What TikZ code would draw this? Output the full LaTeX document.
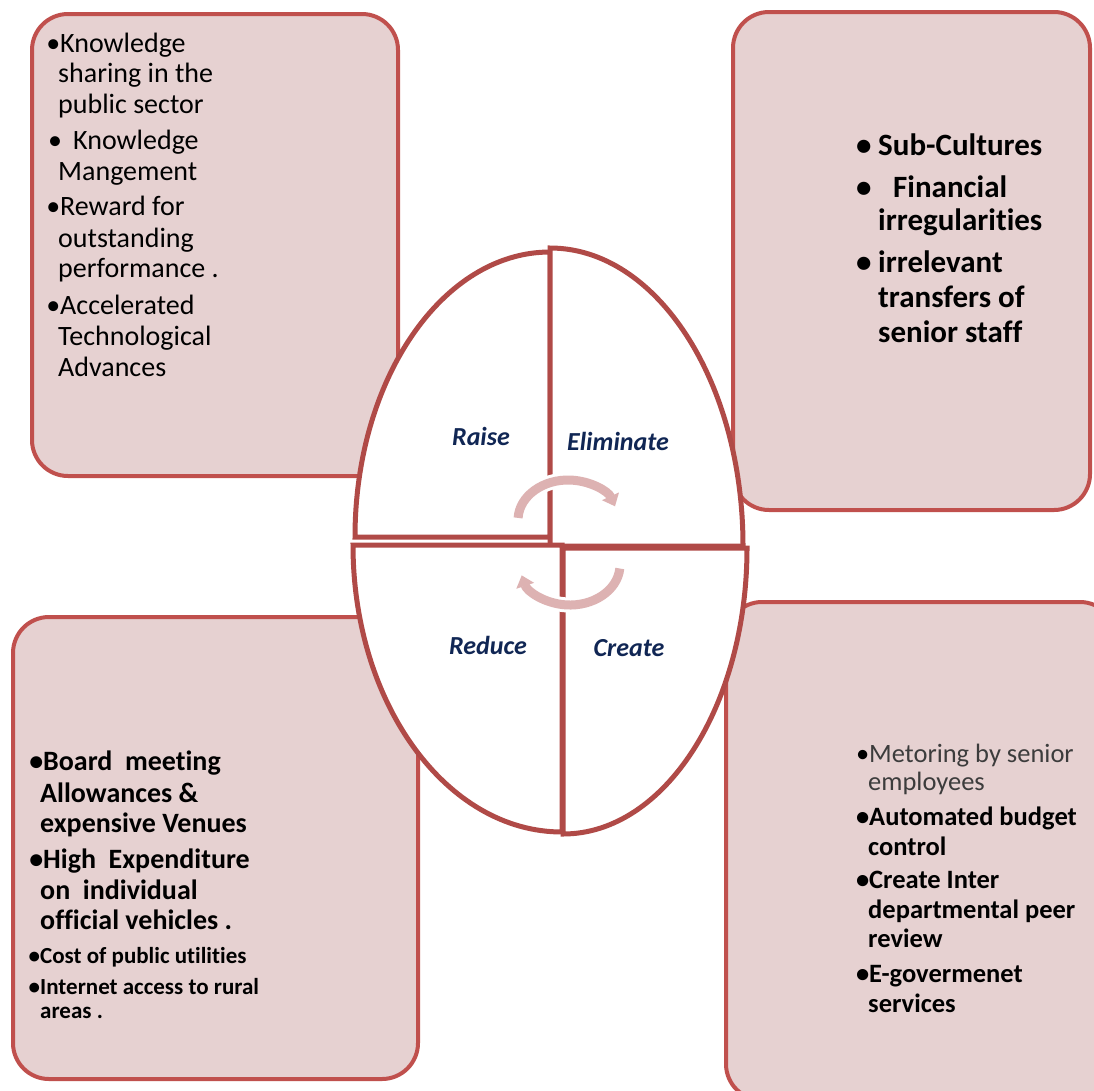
\documentclass[tikz,border=0pt]{standalone}
\usepackage{fontspec}
\setmainfont{Carlito}[Ligatures=NoCommon,RawFeature={-liga;-clig;-dlig}]
\usetikzlibrary{arrows.meta}
\definecolor{boxfill}{RGB}{230,209,209}
\definecolor{boxline}{RGB}{192,80,77}
\definecolor{eggline}{RGB}{176,74,71}
\definecolor{arrowc}{RGB}{221,178,178}
\definecolor{labelc}{RGB}{16,38,84}
\definecolor{greytext}{RGB}{60,60,60}
\begin{document}
\begin{tikzpicture}[x=1pt,y=-1pt,
  panel/.style={draw=boxline,fill=boxfill,line width=4pt,rounded corners=36pt,anchor=north west,inner sep=0pt},
  quad/.style={draw=eggline,fill=white,line width=5pt,line join=miter},
  cyc/.style={draw=arrowc,line width=9pt,-{Triangle[width=18pt,length=11pt]}},
  halo/.style={draw=white,line width=15pt},
  lbl/.style={font=\fontsize{26}{30}\selectfont\bfseries\itshape,text=labelc,inner sep=0pt},
  ta/.style={anchor=base west,inner sep=0pt,font=\fontsize{28}{30}\selectfont},
  tb/.style={anchor=base west,inner sep=0pt,font=\fontsize{31}{34}\selectfont\bfseries},
  tc/.style={anchor=base west,inner sep=0pt,font=\fontsize{28}{30}\selectfont\bfseries},
  tcs/.style={anchor=base west,inner sep=0pt,font=\fontsize{23}{26}\selectfont\bfseries},
  td/.style={anchor=base west,inner sep=0pt,font=\fontsize{26.5}{29}\selectfont\bfseries},
  tdg/.style={anchor=base west,inner sep=0pt,font=\fontsize{26.5}{29}\selectfont,text=greytext},
]
\clip (0,0) rectangle (1094,1090);
\fill[white] (0,0) rectangle (1094,1090);

% panels
\node[panel,minimum width=366pt,minimum height=462pt] (tlbox) at (30,12) {};
\node[panel,minimum width=357pt,minimum height=498pt] (trbox) at (731,10) {};
\node[panel,minimum width=405pt,minimum height=462pt] (blbox) at (11,615) {};
\node[panel,minimum width=390pt,minimum height=498pt] (brbox) at (724,600) {};

% egg quadrants
\draw[quad] (550,537) -- (355,537) arc[start angle=180,end angle=270,x radius=195,y radius=285] -- cycle;
\draw[quad] (550,546) -- (550,248) arc[start angle=270,end angle=360,x radius=193,y radius=298] -- cycle;
\draw[quad] (353,545) -- (562,545) -- (562,832) arc[start angle=90,end angle=180,x radius=209,y radius=287] -- cycle;
\draw[quad] (563,834) -- (563,548) -- (747,548) arc[start angle=0,end angle=90,x radius=184,y radius=286] -- cycle;

% cycle arrows
\draw[halo] (518.1,517.9) arc[start angle=183,end angle=340,x radius=50,y radius=40];
\draw[cyc] (518.1,517.9) arc[start angle=183,end angle=340,x radius=50,y radius=40];
\draw[halo] (619.8,568.5) arc[start angle=5,end angle=165,x radius=50,y radius=40];
\draw[cyc] (619.8,568.5) arc[start angle=5,end angle=165,x radius=50,y radius=40];

% quadrant labels
\node[lbl] (raise) at (481,436) {Raise};
\node[lbl] (elim) at (618,441) {Eliminate};
\node[lbl] (reduce) at (488,645) {Reduce};
\node[lbl] (create) at (629,648) {Create};

% top-left text
\node[ta] (a1) at (60,52) {\llap{•}Knowledge};
\node[ta] (a2) at (58,82) {sharing in the};
\node[ta] (a3) at (58,113) {public sector};
\node[ta] (a4b) at (48,149) {•};
\node[ta] (a4) at (73,149) {Knowledge};
\node[ta] (a5) at (58,180) {Mangement};
\node[ta] (a6) at (60,215) {\llap{•}Reward for};
\node[ta] (a7) at (58,247) {outstanding};
\node[ta] (a8) at (58,277) {performance .};
\node[ta] (a9) at (60,314) {\llap{•}Accelerated};
\node[ta] (a10) at (58,345) {Technological};
\node[ta] (a11) at (58,376) {Advances};

% top-right text
\node[tb] (b1b) at (856,155) {•};
\node[tb] (b1) at (878,155) {Sub-Cultures};
\node[tb] (b2b) at (856,197) {•};
\node[tb] (b2) at (893,197) {Financial};
\node[tb] (b3) at (878,230) {irregularities};
\node[tb] (b4b) at (856,272) {•};
\node[tb] (b4) at (878,272) {irrelevant};
\node[tb] (b5) at (878,307) {transfers of};
\node[tb] (b6) at (878,342) {senior staff};

% bottom-left text
\node[tc] (c1) at (43,770) {\llap{•}Board\ \ meeting};
\node[tc] (c2) at (40,802) {Allowances \&};
\node[tc] (c3) at (40,832) {expensive Venues};
\node[tc] (c4) at (43,868) {\llap{•}High\ \ Expenditure};
\node[tc] (c5) at (40,899) {on\ \ individual};
\node[tc] (c6) at (40,929) {official vehicles .};
\node[tcs] (c7) at (40,963) {\llap{•}Cost of public utilities};
\node[tcs] (c8) at (40,994) {\llap{•}Internet access to rural};
\node[tcs] (c9) at (40,1018) {areas .};

% bottom-right text
\node[tdg] (d1) at (869,762) {\llap{\color{black}•}Metoring by senior};
\node[tdg] (d2) at (868,790) {employees};
\node[td] (d3) at (869,825) {\llap{•}Automated budget};
\node[td] (d4) at (868,855) {control};
\node[td] (d5) at (869,888) {\llap{•}Create Inter};
\node[td] (d6) at (868,918) {departmental peer};
\node[td] (d7) at (868,947) {review};
\node[td] (d8) at (869,982) {\llap{•}E-govermenet};
\node[td] (d9) at (868,1012) {services};
\end{tikzpicture}
\end{document}
